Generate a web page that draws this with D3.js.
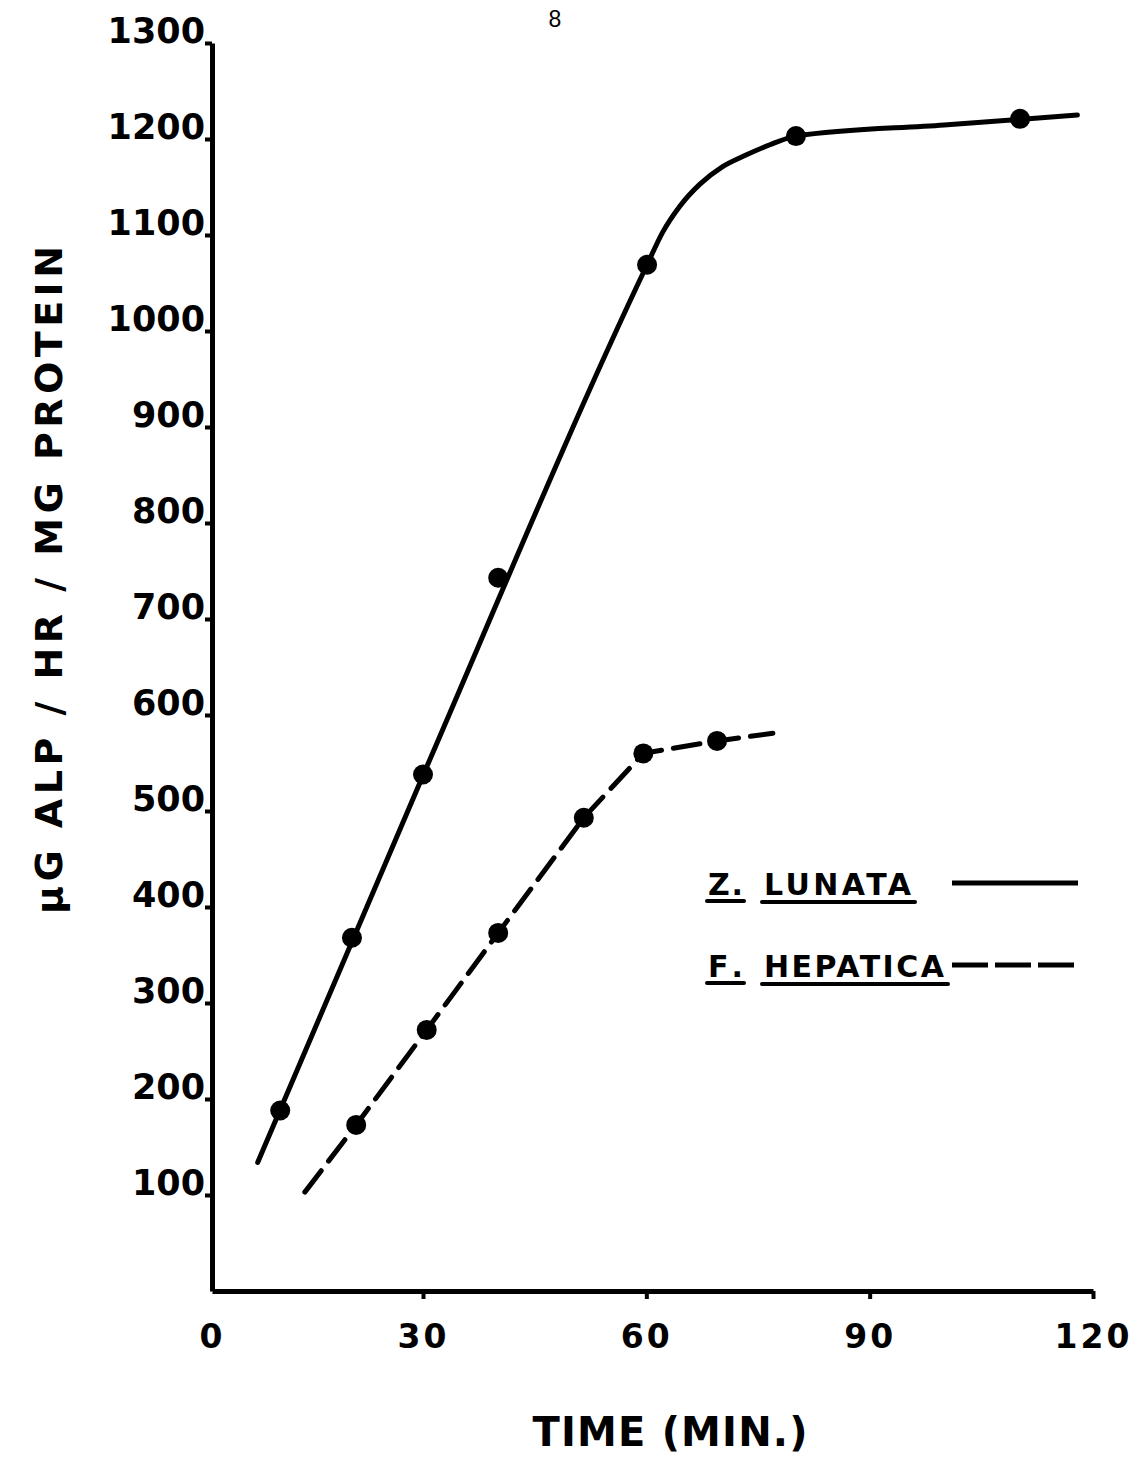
<!DOCTYPE html>
<html>
<head>
<meta charset="utf-8">
<script src="https://cdn.jsdelivr.net/npm/d3@7"></script>
<style>
body { margin: 0; background: #fff; }
text { font-family: "DejaVu Sans", sans-serif; font-weight: bold; fill: #000; }
</style>
</head>
<body>
<div id="chart"></div>
<script>
var svgWidth = 1141;
var svgHeight = 1458;

// tick labels
var timeTicks = [0, 30, 60, 90, 120];
var valueTicks = [100, 200, 300, 400, 500, 600, 700, 800, 900, 1000, 1100, 1200, 1300];

// Z. lunata measured points + drawn curve
var lunataTime = [9.7, 19.9, 30, 40.1, 60.1, 80.1, 110.2];
var lunataValue = [188, 368, 538, 743, 1069, 1203, 1221];
var lunataLineTime = [6.5, 30, 60.1, 62.2, 64.5, 67.2, 70.2, 73.3, 76.6, 80.1, 100, 117.9];
var lunataLineValue = [134, 537, 1069, 1103, 1130, 1153, 1171, 1183, 1194, 1203, 1214.6, 1225];

// F. hepatica measured points + drawn curve
var hepaticaTime = [20.5, 30.5, 40.1, 51.6, 59.6, 69.5];
var hepaticaValue = [173, 272, 373, 493, 560, 573];
var hepaticaLineTime = [13.2, 20.5, 30.5, 40.1, 51.6, 59.6, 69.5, 77];
var hepaticaLineValue = [103, 173, 272, 373, 493, 560, 573, 581];

var svg = d3.select("#chart")
  .append("svg")
    .attr("width", svgWidth)
    .attr("height", svgHeight);

// hand drawn axis: first 30 min a bit shorter than the rest
var x = d3.scaleLinear()
  .domain([0, 30, 120])
  .range([212, 423, 1093]);

var y = d3.scaleLinear()
  .domain([0, 1300])
  .range([1291, 43]);

var zip = function(a, b) { return a.map(function(d, i) { return [d, b[i]]; }); };

// page number
svg.append("text")
  .attr("x", 555)
  .attr("y", 27)
  .attr("text-anchor", "middle")
  .style("font-family", "'Liberation Sans', sans-serif")
  .style("font-weight", "normal")
  .style("font-size", "23px")
  .text("8");

// axes
var xAxis = svg.append("g")
  .attr("transform", "translate(0," + y(0) + ")")
  .call(d3.axisBottom(x).tickValues(timeTicks).tickSize(8).tickSizeOuter(0));

xAxis.select(".domain").attr("stroke-width", 5);
xAxis.selectAll(".tick line").attr("stroke-width", 4)
  .filter(function(d) { return d === 0; }).remove();
xAxis.selectAll(".tick text")
  .attr("y", 57)
  .attr("dy", 0)
  .style("font-size", "33px")
  .style("letter-spacing", "3px")
  .style("font-family", "'DejaVu Sans', sans-serif")
  .style("font-weight", "bold");

var yAxis = svg.append("g")
  .attr("transform", "translate(" + x(0) + ",0)")
  .call(d3.axisLeft(y).tickValues(valueTicks).tickFormat(d3.format("d"))
    .tickSize(7).tickSizeOuter(0));

yAxis.select(".domain").attr("stroke-width", 5);
yAxis.selectAll(".tick line").attr("stroke-width", 4);
yAxis.selectAll(".tick text")
  .attr("x", -7)
  .attr("y", -1)
  .attr("dy", 0)
  .style("font-size", "35px")
  .style("font-family", "'DejaVu Sans', sans-serif")
  .style("font-weight", "bold");

// axis titles
svg.append("text")
  .attr("x", 670)
  .attr("y", 1446)
  .attr("text-anchor", "middle")
  .attr("textLength", 275)
  .attr("lengthAdjust", "spacing")
  .style("font-size", "40px")
  .text("TIME (MIN.)");

svg.append("text")
  .attr("transform", "translate(62,580) rotate(-90)")
  .attr("text-anchor", "middle")
  .attr("textLength", 668)
  .attr("lengthAdjust", "spacing")
  .style("font-size", "38px")
  .text("\u03bcG ALP / HR / MG PROTEIN");

// lines
var lunataLine = d3.line()
  .x(function(d) { return x(d[0]); })
  .y(function(d) { return y(d[1]); })
  .curve(d3.curveMonotoneX);

var hepaticaLine = d3.line()
  .x(function(d) { return x(d[0]); })
  .y(function(d) { return y(d[1]); });

svg.append("path")
  .datum(zip(lunataLineTime, lunataLineValue))
  .attr("d", lunataLine)
  .attr("fill", "none")
  .attr("stroke", "#000")
  .attr("stroke-width", 5)
  .attr("stroke-linecap", "round");

svg.append("path")
  .datum(zip(hepaticaLineTime, hepaticaLineValue))
  .attr("d", hepaticaLine)
  .attr("fill", "none")
  .attr("stroke", "#000")
  .attr("stroke-width", 5)
  .attr("stroke-linecap", "round")
  .attr("stroke-dasharray", "27,12");

// points
svg.selectAll(".lunata")
  .data(zip(lunataTime, lunataValue))
  .enter()
  .append("circle")
  .attr("class", "lunata")
  .attr("cx", function(d) { return x(d[0]); })
  .attr("cy", function(d) { return y(d[1]); })
  .attr("r", 10)
  .attr("fill", "#000");

svg.selectAll(".hepatica")
  .data(zip(hepaticaTime, hepaticaValue))
  .enter()
  .append("circle")
  .attr("class", "hepatica")
  .attr("cx", function(d) { return x(d[0]); })
  .attr("cy", function(d) { return y(d[1]); })
  .attr("r", 10)
  .attr("fill", "#000");

// legend
var legend = svg.append("g");

function legendRow(genus, species, yBase, speciesLen, dash) {
  legend.append("text")
    .attr("x", 708).attr("y", yBase)
    .attr("textLength", 35).attr("lengthAdjust", "spacing")
    .style("font-size", "30px")
    .text(genus);
  legend.append("line")
    .attr("x1", 707).attr("x2", 744)
    .attr("y1", yBase + 6).attr("y2", yBase + 6)
    .attr("stroke", "#000").attr("stroke-width", 4).attr("stroke-linecap", "round");
  legend.append("text")
    .attr("x", 764).attr("y", yBase)
    .attr("textLength", speciesLen).attr("lengthAdjust", "spacing")
    .style("font-size", "30px")
    .text(species);
  legend.append("line")
    .attr("x1", 762).attr("x2", 762 + speciesLen + 6)
    .attr("y1", yBase + 7).attr("y2", yBase + 7)
    .attr("stroke", "#000").attr("stroke-width", 4).attr("stroke-linecap", "round");
  legend.append("line")
    .attr("x1", 952).attr("x2", 1078)
    .attr("y1", yBase - 12).attr("y2", yBase - 12)
    .attr("stroke", "#000").attr("stroke-width", 5)
    .attr("stroke-dasharray", dash);
}

legendRow("Z.", "LUNATA", 895, 147, null);
legendRow("F.", "HEPATICA", 977, 180, "36,7");
</script>
</body>
</html>
